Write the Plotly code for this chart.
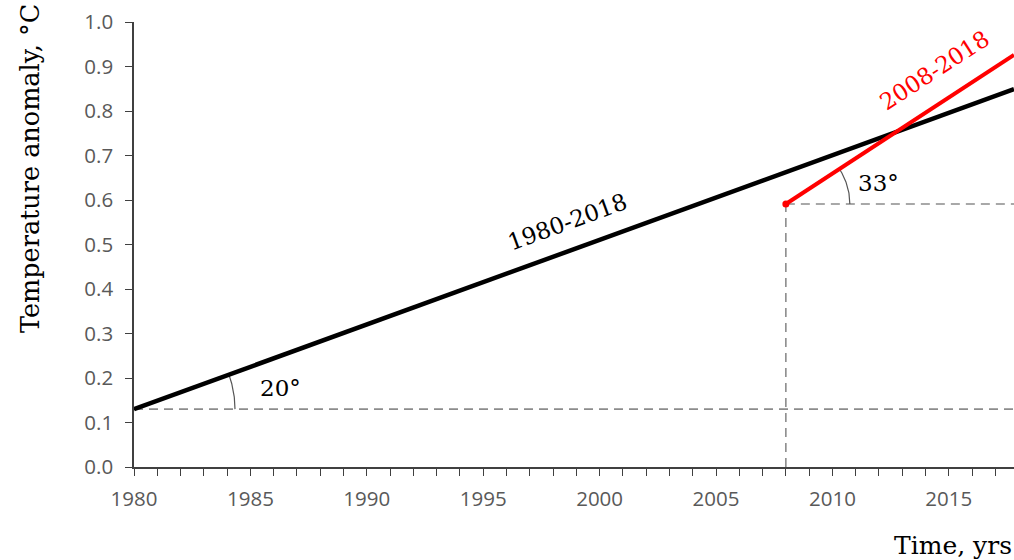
import numpy as np
import plotly.graph_objects as go

# Data
years_long = [1980, 2017.8]
trend_long = [0.13, 0.849]
years_short = [2008, 2017.8]
trend_short = [0.591, 0.926]
x_ticks = [1980, 1985, 1990, 1995, 2000, 2005, 2010, 2015]
y_ticks = [0.0, 0.1, 0.2, 0.3, 0.4, 0.5, 0.6, 0.7, 0.8, 0.9, 1.0]
angle_long = 20
angle_short = 33

X0, X1 = 1980, 2017.8
Y0, Y1 = 0.0, 1.0
L, R, T, B = 134, 0, 22, 93
W, H = 1014, 560
pw = W - L - R
ph = H - T - B
px_per_x = pw / (X1 - X0)
px_per_y = ph / (Y1 - Y0)

def arc(cx, cy, r_px, a_deg):
    t = np.linspace(0, np.radians(a_deg), 40)
    xs = cx + r_px * np.cos(t) / px_per_x
    ys = cy + r_px * np.sin(t) / px_per_y
    return xs, ys

def pix_angle(xs, ys):
    dx = (xs[1] - xs[0]) * px_per_x
    dy = (ys[1] - ys[0]) * px_per_y
    return np.degrees(np.arctan2(dy, dx))

fig = go.Figure()
dash_col = "#8c8c8c"
dash = "9px,6px"
fig.add_trace(go.Scatter(x=[years_long[0], X1], y=[trend_long[0], trend_long[0]], mode="lines",
                         line=dict(color=dash_col, width=1.6, dash=dash), hoverinfo="skip"))
fig.add_trace(go.Scatter(x=[years_short[0], X1], y=[trend_short[0], trend_short[0]], mode="lines",
                         line=dict(color=dash_col, width=1.6, dash=dash), hoverinfo="skip"))
fig.add_trace(go.Scatter(x=[years_short[0], years_short[0]], y=[0, trend_short[0]], mode="lines",
                         line=dict(color=dash_col, width=1.6, dash=dash), hoverinfo="skip"))

ax1, ay1 = arc(years_long[0], trend_long[0], 101, pix_angle(years_long, trend_long))
ax2, ay2 = arc(years_short[0], trend_short[0], 64, pix_angle(years_short, trend_short))
for ax_, ay_ in [(ax1, ay1), (ax2, ay2)]:
    fig.add_trace(go.Scatter(x=ax_, y=ay_, mode="lines", line=dict(color="#555555", width=1.2),
                             hoverinfo="skip"))

fig.add_trace(go.Scatter(x=years_long, y=trend_long, mode="lines",
                         line=dict(color="black", width=4.5), hoverinfo="skip"))
fig.add_trace(go.Scatter(x=years_short, y=trend_short, mode="lines",
                         line=dict(color="#ff0000", width=4), hoverinfo="skip"))
fig.add_trace(go.Scatter(x=[years_short[0]], y=[trend_short[0]], mode="markers",
                         marker=dict(color="#ff0000", size=7), hoverinfo="skip"))

serif = "DejaVu Serif"
ann = [
    dict(x=1998.6, y=0.551, text="1980-2018", textangle=-angle_long, font=dict(family=serif, size=23, color="black")),
    dict(x=2014.4, y=0.892, text="2008-2018", textangle=-angle_short, font=dict(family=serif, size=23, color="#ff0000")),
    dict(x=1986.3, y=0.178, text="20°", font=dict(family=serif, size=23, color="black")),
    dict(x=2012.0, y=0.638, text="33°", font=dict(family=serif, size=23, color="black")),
]
for a in ann:
    fig.add_annotation(showarrow=False, xref="x", yref="y", **a)

fig.add_annotation(text="Temperature anomaly, °C", xref="paper", yref="paper", x=(30 - L) / pw, y=(H - B - 169) / ph,
                   textangle=-90, showarrow=False, xanchor="center", yanchor="middle",
                   font=dict(family=serif, size=25.5, color="black"))
fig.add_annotation(text="Time, yrs", xref="paper", yref="paper", x=1.0, y=(H - B - 545) / ph, xanchor="right", yanchor="middle",
                   showarrow=False, font=dict(family=serif, size=25, color="black"))

tickfont = dict(family="Open Sans", size=20.5, color="#595959")
fig.update_xaxes(range=[X0, X1], tickvals=x_ticks, ticktext=[str(v) for v in x_ticks],
                 showgrid=False, zeroline=False, showline=True, linecolor="#404040", linewidth=1.5,
                 ticks="outside", ticklen=7, tickcolor="#404040", tickwidth=1.2, ticklabelstandoff=6,
                 minor=dict(dtick=1, ticks="outside", ticklen=7, tickcolor="#404040", tickwidth=1.2),
                 tickfont=tickfont)
fig.update_yaxes(range=[Y0, Y1], tickvals=y_ticks, ticktext=[f"{v:.1f}" for v in y_ticks],
                 showgrid=False, zeroline=False, showline=True, linecolor="#404040", linewidth=1.5,
                 ticks="outside", ticklen=7, tickcolor="#404040", tickwidth=1.2, ticklabelstandoff=8,
                 tickfont=tickfont)
fig.update_layout(width=W, height=H, margin=dict(l=L, r=R, t=T, b=B), showlegend=False,
                  plot_bgcolor="white", paper_bgcolor="white")
fig.write_html("out.html")
